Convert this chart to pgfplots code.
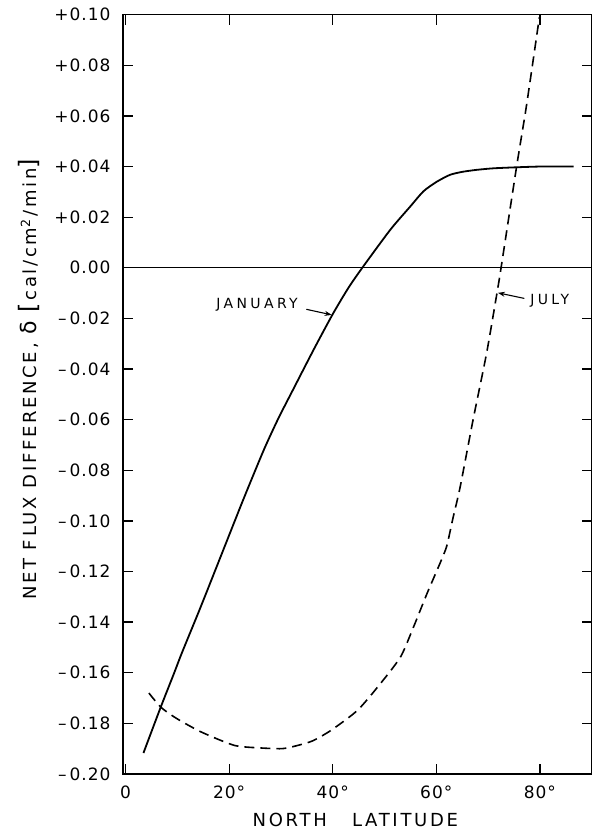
\documentclass[border=0pt]{standalone}
\usepackage{fontspec}
\setmainfont{DejaVu Sans}[LetterSpace=6]
\usepackage{pgfplots}
\pgfplotsset{compat=1.18}
\usetikzlibrary{arrows.meta}
\newfontfamily\labfont{DejaVu Sans}[LetterSpace=15]
\newfontfamily\xlabfont{DejaVu Sans}[LetterSpace=15]
\newfontfamily\notefont{DejaVu Sans}[LetterSpace=24]

\pgfplotstableread{
x y
3.45 -0.1917
6.8 -0.1735
9.3 -0.1605
10.9 -0.1520
14.5 -0.1340
18.9 -0.1113
22.8 -0.0912
26.7 -0.0719
29.5 -0.0595
32.5 -0.0475
36.4 -0.0320
40.0 -0.0183
43.0 -0.0080
45.7 0.0
51.1 0.0150
55.0 0.0243
57.5 0.0302
60.0 0.0339
62.6 0.0367
65.0 0.0379
67.8 0.0387
71.0 0.0393
75.4 0.0397
80.0 0.0400
86.5 0.0400
}\january

\pgfplotstableread{
x y
4.5 -0.168
6.8 -0.1736
9.8 -0.178
14.6 -0.1834
21.0 -0.1887
26.0 -0.1897
30.0 -0.1900
32.1 -0.1893
36.0 -0.1870
39.7 -0.1827
44.8 -0.1748
49.2 -0.1643
53.1 -0.1537
55.6 -0.1419
58.2 -0.1287
60.7 -0.1168
62.0 -0.1100
63.2 -0.0990
64.6 -0.0866
67.1 -0.0600
69.7 -0.0338
71.7 -0.0101
72.5 0.0
75.5 0.0400
77.4 0.0640
79.9 0.0990
}\july

\begin{document}
\begin{tikzpicture}
\begin{axis}[
  scale only axis,
  width=468.7pt, height=759.3pt,
  xmin=-0.5, xmax=90,
  ymin=-0.20, ymax=0.10,
  clip=false,
  axis line style={line width=1.4pt},
  tick style={line width=1.3pt, black},
  major tick length=10pt,
  xtick={0,20,40,60,80},
  xticklabels={0,20°,40°,60°,80°},
  ytick={-0.20,-0.18,-0.16,-0.14,-0.12,-0.10,-0.08,-0.06,-0.04,-0.02,0,0.02,0.04,0.06,0.08,0.10},
  yticklabels={–\,0.20,–\,0.18,–\,0.16,–\,0.14,–\,0.12,–\,0.10,–\,0.08,–\,0.06,–\,0.04,–\,0.02,0.00,+0.02,+0.04,+0.06,+0.08,+0.10},
  xtick pos=both, ytick pos=both,
  xticklabel pos=lower, yticklabel pos=left,
  ticklabel style={font=\fontsize{17}{20}\selectfont},
  yticklabel style={xshift=-9pt},
  xticklabel style={yshift=-8pt},
  xlabel={\xlabfont NORTH\hspace{1.4em}LATITUDE},
  xlabel style={font=\fontsize{18}{20}\selectfont, at={(axis description cs:0.5,0)}, anchor=north, yshift=-36pt, xshift=-2pt},
  ylabel={\labfont NET FLUX DIFFERENCE, {\fontsize{22}{22}\selectfont δ} {\fontsize{24}{24}\selectfont[}\,cal/cm\textsuperscript{2}\,/min{\fontsize{24}{24}\selectfont]}},
  ylabel style={font=\fontsize{18}{20}\selectfont, at={(axis description cs:-0.1707,0.52)}, anchor=south},
]
\addplot[line width=0.8pt, black] coordinates {(-0.5,0) (90,0)};
\addplot[line width=1.8pt, black, smooth, tension=0.4] table {\january};
\addplot[line width=1.6pt, black, dash pattern=on 10pt off 6pt, smooth, tension=0.4] table {\july};
\node[font=\notefont\fontsize{14}{16}\selectfont] at (axis cs:25.4,-0.0147) {JANUARY};
\draw[line width=1.1pt, -{Stealth[length=7pt,width=5pt]}] (axis cs:34.9,-0.0164) -- (axis cs:39.8,-0.0186);
\node[font=\notefont\fontsize{14}{16}\selectfont] at (axis cs:81.9,-0.0131) {JULY};
\draw[line width=1.1pt, -{Stealth[length=7pt,width=5pt]}] (axis cs:77.0,-0.0121) -- (axis cs:71.9,-0.0099);
\end{axis}
\pgfresetboundingbox
\path (-123pt,-58pt) rectangle (472pt,774pt);
\end{tikzpicture}
\end{document}
